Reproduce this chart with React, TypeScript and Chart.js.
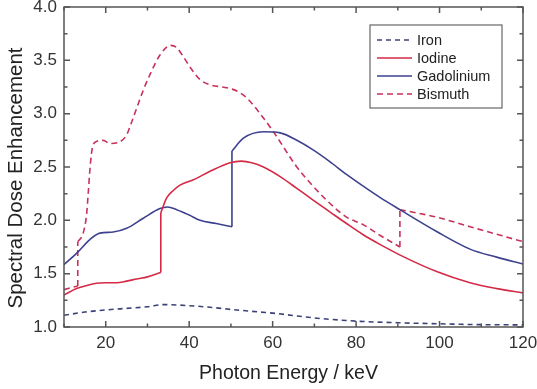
import { useEffect, useRef } from "react";
import { Chart, registerables } from "chart.js";

Chart.register(...registerables);

// Photon energy (keV) and spectral dose enhancement for each contrast element.
// A repeated energy marks an absorption edge (value before / after the edge).
const ironEnergy = [10, 15, 20, 25, 30, 34, 40, 45, 50, 57, 60, 70, 80, 90, 100, 110, 120];
const ironValues = [1.11, 1.14, 1.16, 1.175, 1.19, 1.21, 1.2, 1.185, 1.165, 1.14, 1.13, 1.085, 1.055, 1.04, 1.03, 1.022, 1.02];

const iodineEnergy = [10, 13, 15.5, 17.8, 20, 22.6, 25, 27.4, 30, 33.2, 33.2, 34.6, 36.2, 37.8, 41, 45, 49.8, 52.5, 55, 57.8, 61.8, 65.8, 69.7, 73.7, 77.7, 81.7, 85.7, 91.3, 99.3, 107.3, 113.7, 120];
const iodineValues = [1.3, 1.36, 1.39, 1.41, 1.415, 1.415, 1.43, 1.45, 1.47, 1.51, 2.07, 2.21, 2.28, 2.33, 2.38, 2.46, 2.54, 2.555, 2.54, 2.5, 2.41, 2.3, 2.19, 2.08, 1.97, 1.865, 1.775, 1.66, 1.52, 1.415, 1.36, 1.32];

const gadoliniumEnergy = [10, 13, 16.2, 18.6, 21.8, 25, 29, 33, 34.8, 37, 40, 42.6, 46.5, 50.25, 50.25, 53, 57.8, 61.8, 65.8, 69.7, 73.7, 77.7, 81.7, 85.7, 90.5, 99.3, 107.3, 113.7, 120];
const gadoliniumValues = [1.585, 1.69, 1.82, 1.88, 1.89, 1.925, 2.02, 2.11, 2.125, 2.1, 2.05, 2.0, 1.97, 1.94, 2.65, 2.77, 2.83, 2.82, 2.75, 2.66, 2.55, 2.43, 2.32, 2.215, 2.1, 1.895, 1.73, 1.655, 1.59];

const bismuthEnergy = [10, 13.3, 13.3, 14.6, 15.4, 15.8, 16.3, 16.8, 17.8, 19.4, 21, 23, 25, 26.2, 29, 31, 33, 35.5, 37, 38.5, 40.5, 42.6, 45, 48, 50.3, 52, 54, 57, 60.2, 65.8, 69.7, 73.7, 77.7, 81.7, 85.7, 90.5, 90.5, 99.3, 107.3, 120];
const bismuthValues = [1.35, 1.385, 1.8, 1.88, 2.05, 2.25, 2.52, 2.68, 2.74, 2.75, 2.72, 2.73, 2.8, 2.92, 3.22, 3.4, 3.55, 3.64, 3.62, 3.54, 3.42, 3.32, 3.27, 3.25, 3.23, 3.2, 3.14, 3.0, 2.83, 2.5, 2.32, 2.16, 2.03, 1.96, 1.86, 1.75, 2.1, 2.03, 1.94, 1.8];

const seriesNames = ["Iron", "Iodine", "Gadolinium", "Bismuth"];
const seriesColors = ["#3c4278", "#d42a46", "#3d418e", "#c8325a"];
const seriesDashes = [[5, 4], [], [], [6, 4]];

// Axis ticks
const xMajorTicks = [20, 40, 60, 80, 100, 120];
const xMinorTicks = [10, 30, 50, 70, 90, 110];
const yMajorTicks = [1.0, 1.5, 2.0, 2.5, 3.0, 3.5, 4.0];
const yMinorTicks = [1.25, 1.75, 2.25, 2.75, 3.25, 3.75];

const xTitle = "Photon Energy / keV";
const yTitle = "Spectral Dose Enhancement";

const FONT = "'Liberation Sans', Arial, Helvetica, sans-serif";
const LINE_WIDTH = 1.6;

type Pt = { x: number; y: number };

// Split a curve at its absorption edges: smooth pieces plus a vertical step for each edge.
function splitAtEdges(xs: number[], ys: number[]) {
  const pieces: Pt[][] = [];
  const steps: Pt[][] = [];
  let cur: Pt[] = [];
  xs.forEach((x, i) => {
    if (i > 0 && x === xs[i - 1]) {
      steps.push([{ x, y: ys[i - 1] }, { x, y: ys[i] }]);
      pieces.push(cur);
      cur = [];
    }
    cur.push({ x, y: ys[i] });
  });
  pieces.push(cur);
  return { pieces, steps };
}

// Inward tick marks on all four sides, the closed frame and the axis titles.
const framePlugin = {
  id: "frameTicks",
  afterDatasetsDraw(chart: any) {
    const { ctx, chartArea: a, scales } = chart;
    const sx = scales.x;
    const sy = scales.y;
    ctx.save();
    ctx.strokeStyle = "#555";
    ctx.lineWidth = 1.5;
    ctx.beginPath();
    const xt = (vals: number[], len: number) => {
      vals.forEach((v) => {
        const p = sx.getPixelForValue(v);
        ctx.moveTo(p, a.bottom);
        ctx.lineTo(p, a.bottom - len);
        ctx.moveTo(p, a.top);
        ctx.lineTo(p, a.top + len);
      });
    };
    const yt = (vals: number[], len: number) => {
      vals.forEach((v) => {
        const p = sy.getPixelForValue(v);
        ctx.moveTo(a.left, p);
        ctx.lineTo(a.left + len, p);
        ctx.moveTo(a.right, p);
        ctx.lineTo(a.right - len, p);
      });
    };
    xt(xMajorTicks, 6);
    xt(xMinorTicks, 3.5);
    yt(yMajorTicks, 6);
    yt(yMinorTicks, 3.5);
    ctx.stroke();
    ctx.strokeRect(a.left, a.top, a.right - a.left, a.bottom - a.top);

    ctx.fillStyle = "#222";
    ctx.textAlign = "center";
    ctx.textBaseline = "alphabetic";
    ctx.font = `19.5px ${FONT}`;
    ctx.fillText(xTitle, (a.left + a.right) / 2 - 5, a.bottom + 52);
    ctx.save();
    ctx.font = `20.5px ${FONT}`;
    ctx.translate(a.left - 42, (a.top + a.bottom) / 2 + 11);
    ctx.rotate(-Math.PI / 2);
    ctx.fillText(yTitle, 0, 0);
    ctx.restore();
    ctx.restore();
  },
};

// Boxed legend in the upper right of the plot area.
const legendPlugin = {
  id: "boxLegend",
  afterDraw(chart: any) {
    const { ctx, chartArea: a } = chart;
    const bx = a.right - 153;
    const by = a.top + 18;
    const bw = 132;
    const bh = 83;
    ctx.save();
    ctx.fillStyle = "#fff";
    ctx.fillRect(bx, by, bw, bh);
    ctx.strokeStyle = "#666";
    ctx.lineWidth = 1.2;
    ctx.strokeRect(bx, by, bw, bh);
    seriesNames.forEach((name, i) => {
      const y = by + 15 + i * 18;
      ctx.strokeStyle = seriesColors[i];
      ctx.lineWidth = LINE_WIDTH;
      ctx.setLineDash(seriesDashes[i]);
      ctx.beginPath();
      ctx.moveTo(bx + 7, y);
      ctx.lineTo(bx + 42, y);
      ctx.stroke();
      ctx.setLineDash([]);
      ctx.fillStyle = "#222";
      ctx.font = `14.5px ${FONT}`;
      ctx.textAlign = "left";
      ctx.textBaseline = "middle";
      ctx.fillText(name, bx + 47, y + 1);
    });
    ctx.restore();
  },
};

export default function App() {
  const canvasRef = useRef<HTMLCanvasElement | null>(null);

  useEffect(() => {
    if (!canvasRef.current) return;
    const series = [
      [ironEnergy, ironValues],
      [iodineEnergy, iodineValues],
      [gadoliniumEnergy, gadoliniumValues],
      [bismuthEnergy, bismuthValues],
    ];
    const datasets: any[] = [];
    series.forEach(([xs, ys], i) => {
      const { pieces, steps } = splitAtEdges(xs, ys);
      const style = {
        label: seriesNames[i],
        borderColor: seriesColors[i],
        backgroundColor: seriesColors[i],
        borderWidth: LINE_WIDTH,
        borderDash: seriesDashes[i],
        pointRadius: 0,
        fill: false,
      };
      pieces.forEach((data) => datasets.push({ ...style, data, cubicInterpolationMode: "monotone" }));
      steps.forEach((data) => datasets.push({ ...style, data, tension: 0 }));
    });

    const chart = new Chart(canvasRef.current, {
      type: "line",
      data: { datasets },
      plugins: [framePlugin, legendPlugin],
      options: {
        animation: false,
        responsive: true,
        maintainAspectRatio: false,
        layout: { padding: { left: 0, right: 14, top: 7, bottom: 0 } },
        plugins: { legend: { display: false }, tooltip: { enabled: false } },
        scales: {
          x: {
            type: "linear",
            min: 10,
            max: 120,
            grid: { display: false, drawTicks: false },
            border: { display: false },
            afterBuildTicks: (s: any) => {
              s.ticks = xMajorTicks.map((value) => ({ value }));
            },
            afterFit: (s: any) => {
              s.height = 62;
              s.paddingLeft = 0;
              s.paddingRight = 0;
            },
            ticks: {
              padding: 6,
              color: "#333",
              font: { family: FONT, size: 17 },
              maxRotation: 0,
              callback: (v: any) => String(v),
            },
          },
          y: {
            type: "linear",
            min: 1,
            max: 4,
            grid: { display: false, drawTicks: false },
            border: { display: false },
            afterBuildTicks: (s: any) => {
              s.ticks = yMajorTicks.map((value) => ({ value }));
            },
            afterFit: (s: any) => {
              s.width = 64;
              s.paddingTop = 0;
              s.paddingBottom = 0;
            },
            ticks: {
              padding: 7,
              color: "#333",
              font: { family: FONT, size: 17 },
              callback: (v: any) => Number(v).toFixed(1),
            },
          },
        },
      },
    });
    return () => chart.destroy();
  }, []);

  return (
    <div style={{ position: "fixed", left: 0, top: 0, width: 537, height: 389, background: "#fff" }}>
      <canvas ref={canvasRef} />
    </div>
  );
}
